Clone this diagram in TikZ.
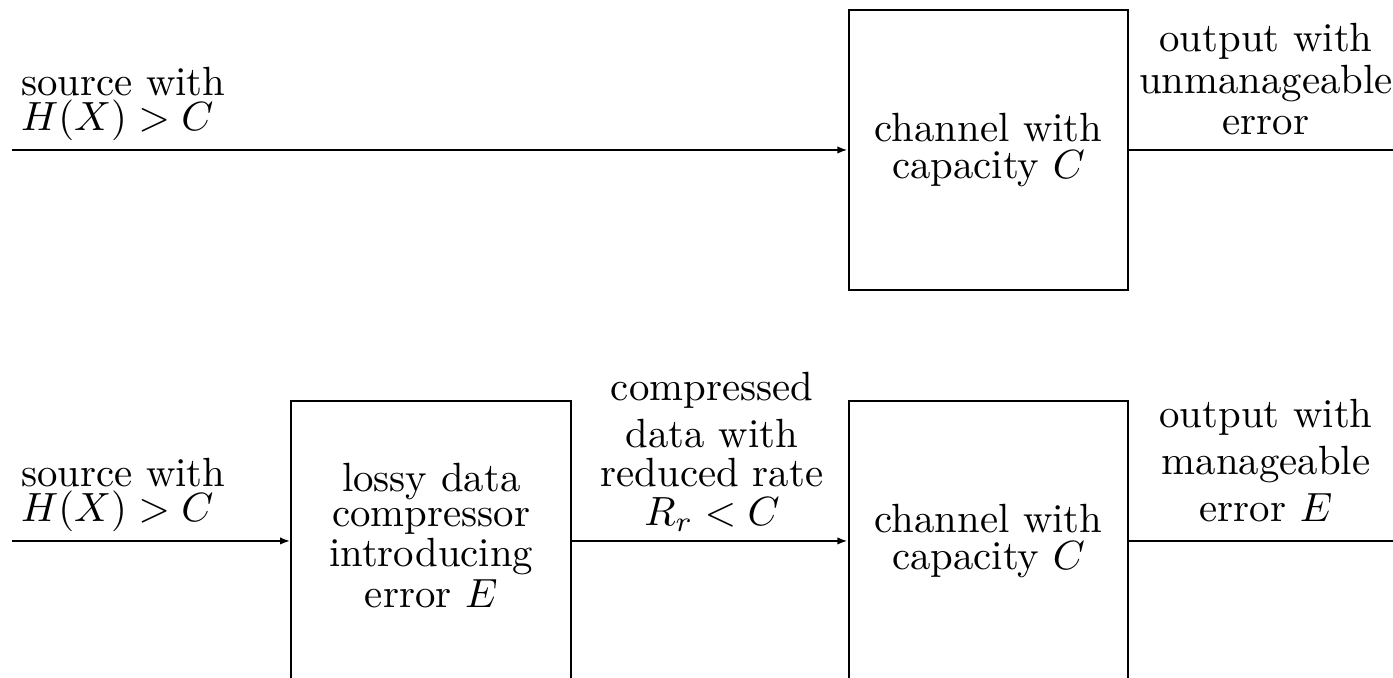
\documentclass[tikz,border=0pt]{standalone}
\usepackage{amsmath}
\usepackage{amssymb}
\usetikzlibrary{arrows.meta,positioning}
\tikzset{
  blk/.style={draw, minimum width=2.41cm, minimum height=2.41cm, inner sep=0pt},
  txt/.style={align=center, font=\setlength{\baselineskip}{0pt}},
  wide/.style={align=center, font=\setlength{\baselineskip}{#1}},
  wide/.default=10.2pt,
  arr/.style={-{Latex[length=2.5pt,width=1.8pt]}},
}

\begin{document}
\begin{tikzpicture}[line width=0.5pt]
    \useasboundingbox (0,0) rectangle (12,5.832);
    \clip (0,0) rectangle (12,5.832);

    % upper chain
    \node[blk] (chan1) at (8.516,4.540) {};
    \node[txt] (chan1txt) at (chan1.center) {channel with\\[1pt] capacity $C$};
    \coordinate (in1) at (0.103,4.540);
    \coordinate (out1) at (12.2,4.540);
    \draw[arr] (in1) -- (chan1.west);
    \draw (chan1.east) -- (out1);
    \node[txt, align=left, anchor=south west, inner sep=2pt] (src1) at (in1) {source with\\ $H(X)>C$};
    \node[wide, above, inner sep=3.4pt] (res1) at (10.906,4.540) {output with\\ unmanageable\\ error};

    % lower chain
    \node[blk] (comp) at (3.715,1.172) {};
    \node[txt] (comptxt) at ([yshift=1.3pt]comp.center) {lossy data\\[1pt] compressor\\ introducing\\ error $E$};
    \node[blk] (chan2) at (8.516,1.172) {};
    \node[txt] (chan2txt) at (chan2.center) {channel with\\[1pt] capacity $C$};
    \coordinate (in2) at (0.103,1.172);
    \coordinate (out2) at (12.2,1.172);
    \draw[arr] (in2) -- (comp.west);
    \draw[arr] (comp.east) -- (chan2.west);
    \draw (chan2.east) -- (out2);
    \node[txt, align=left, anchor=south west, inner sep=2pt] (src2) at (in2) {source with\\ $H(X)>C$};
    \node[wide=9.6pt, above, inner sep=2pt] (rate) at (6.134,1.172) {compressed\\[2pt] data with\\ reduced rate\\ $R_r<C$};
    \node[wide=11.5pt, above, inner sep=4.4pt] (res2) at (10.906,1.172) {output with\\ manageable\\ error $E$};
\end{tikzpicture}
\end{document}
